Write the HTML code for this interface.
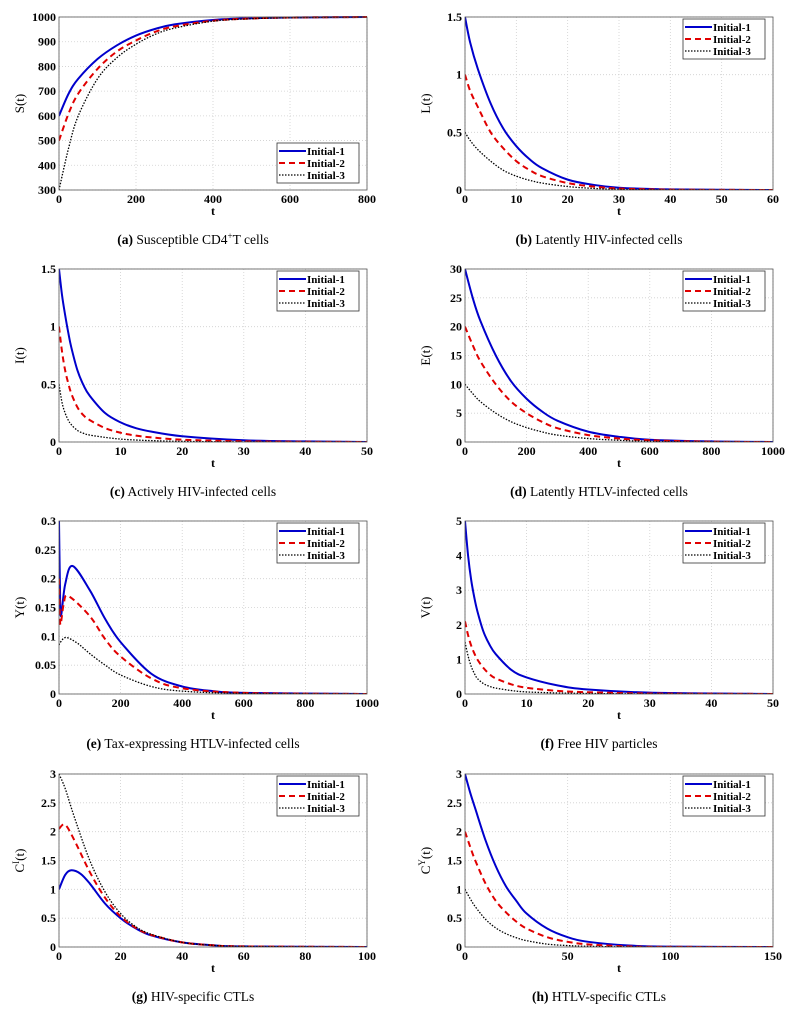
<!DOCTYPE html>
<html><head><meta charset="utf-8"><style>
body{margin:0;background:#fff;width:795px;height:1011px;overflow:hidden}
svg{display:block}
text{font-family:"Liberation Serif",serif}
</style></head><body>
<svg id="fig" width="795" height="1011" viewBox="0 0 795 1011"></svg>
<script>
// ---- data arrays ----
const tA=[0,25,50,100,150,200,250,300,400,500,600,800];
const a1=[600,690,750,830,885,925,952,970,988,995,998,1000];
const a2=[500,610,690,790,860,905,940,962,985,994,998,1000];
const a3=[300,470,600,750,835,890,930,955,983,993,997,1000];
const tB=[0,1,2.5,5,7.5,10,12.5,15,20,25,30,40,60];
const b1=[1.5,1.28,1.05,0.75,0.53,0.38,0.27,0.19,0.09,0.045,0.02,0.005,0];
const b2=[1.0,0.86,0.72,0.5,0.36,0.25,0.175,0.12,0.06,0.03,0.013,0.003,0];
const b3=[0.5,0.43,0.35,0.25,0.17,0.12,0.085,0.06,0.03,0.014,0.006,0.001,0];
const tC=[0,0.5,1,1.5,2,3,4,5,7.5,10,12.5,15,20,30,40,50];
const c1=[1.5,1.27,1.1,0.95,0.82,0.62,0.49,0.4,0.25,0.17,0.12,0.09,0.05,0.015,0.005,0];
const c2=[1.0,0.78,0.62,0.51,0.42,0.3,0.23,0.19,0.12,0.08,0.055,0.04,0.02,0.006,0.002,0];
const c3=[0.5,0.34,0.25,0.19,0.15,0.1,0.075,0.06,0.04,0.025,0.017,0.012,0.005,0.001,0,0];
const tD=[0,25,50,100,150,200,250,300,400,500,600,800,1000];
const d1=[30,25,21,15,10.5,7.5,5.3,3.7,1.8,0.9,0.4,0.1,0];
const d2=[20,16.8,14,10,7,5,3.5,2.4,1.2,0.6,0.3,0.05,0];
const d3=[10,8.4,7,5,3.5,2.5,1.75,1.2,0.6,0.3,0.12,0.02,0];
const tE1=[0,3,6,20,44,100,150,200,300,400,500,600,1000];
const e1=[0.3,0.19,0.135,0.19,0.222,0.18,0.13,0.09,0.035,0.013,0.005,0.002,0];
const tE2=[0,2,5,15,30,100,150,200,300,400,600,1000];
const e2=[0.2,0.15,0.12,0.155,0.17,0.135,0.095,0.065,0.027,0.01,0.002,0];
const tE3=[0,5,23,60,100,150,200,300,400,600,1000];
const e3=[0.085,0.09,0.098,0.088,0.07,0.05,0.033,0.013,0.005,0.001,0];
const tF=[0,0.5,1,1.5,2,3,4,5,7.5,10,15,20,30,50];
const f1=[5,4.0,3.3,2.8,2.4,1.8,1.42,1.15,0.7,0.48,0.25,0.13,0.04,0];
const f2=[2.1,1.7,1.4,1.18,1.0,0.75,0.57,0.45,0.28,0.18,0.09,0.05,0.015,0];
const f3=[1.5,1.1,0.8,0.6,0.45,0.3,0.22,0.17,0.1,0.06,0.03,0.015,0.003,0];
const tG1=[0,2,4,7,10,15,20,25,30,40,50,60,100];
const g1=[1,1.25,1.33,1.27,1.1,0.75,0.5,0.32,0.2,0.08,0.03,0.01,0];
const tG2=[0,2,5,10,15,20,25,30,40,50,60,100];
const g2=[2.05,2.12,1.85,1.3,0.85,0.53,0.33,0.21,0.08,0.03,0.01,0];
const tG3=[0,2,5,10,15,20,25,30,40,50,60,100];
const g3=[3,2.75,2.25,1.5,0.95,0.58,0.35,0.22,0.08,0.03,0.01,0];
const tH=[0,2.5,5,10,15,20,25,30,40,50,60,80,100,150];
const h1=[3,2.68,2.4,1.85,1.4,1.05,0.8,0.58,0.32,0.17,0.09,0.025,0.007,0];
const h2=[2,1.74,1.5,1.1,0.8,0.6,0.44,0.32,0.17,0.09,0.045,0.01,0.002,0];
const h3=[1,0.84,0.7,0.48,0.33,0.23,0.16,0.11,0.05,0.025,0.012,0.002,0,0];

const xtA=[0,200,400,600,800], ytA=[300,400,500,600,700,800,900,1000];
const xtB=[0,10,20,30,40,50,60], ytB=[0,0.5,1,1.5];
const xtC=[0,10,20,30,40,50], ytC=[0,0.5,1,1.5];
const xtD=[0,200,400,600,800,1000], ytD=[0,5,10,15,20,25,30];
const xtE=[0,200,400,600,800,1000], ytE=[0,0.05,0.1,0.15,0.2,0.25,0.3];
const xtF=[0,10,20,30,40,50], ytF=[0,1,2,3,4,5];
const xtG=[0,20,40,60,80,100], ytG=[0,0.5,1,1.5,2,2.5,3];
const xtH=[0,50,100,150], ytH=[0,0.5,1,1.5,2,2.5,3];

const NS="http://www.w3.org/2000/svg";
const fig=document.getElementById('fig');
function mk(tag,attrs,parent){const e=document.createElementNS(NS,tag);for(const k in attrs)e.setAttribute(k,attrs[k]);(parent||fig).appendChild(e);return e;}

const panels=[
 {id:'a',x:59,y:17,xt:xtA,yt:ytA,yl:'S',sup:'',leg:'br',cap:['(a)',' Susceptible CD4','+','T cells'],s:[[tA,a1],[tA,a2],[tA,a3]]},
 {id:'b',x:465,y:17,xt:xtB,yt:ytB,yl:'L',sup:'',leg:'tr',cap:['(b)',' Latently HIV-infected cells'],s:[[tB,b1],[tB,b2],[tB,b3]]},
 {id:'c',x:59,y:269,xt:xtC,yt:ytC,yl:'I',sup:'',leg:'tr',cap:['(c)',' Actively HIV-infected cells'],s:[[tC,c1],[tC,c2],[tC,c3]]},
 {id:'d',x:465,y:269,xt:xtD,yt:ytD,yl:'E',sup:'',leg:'tr',cap:['(d)',' Latently HTLV-infected cells'],s:[[tD,d1],[tD,d2],[tD,d3]]},
 {id:'e',x:59,y:521,xt:xtE,yt:ytE,yl:'Y',sup:'',leg:'tr',cap:['(e)',' Tax-expressing HTLV-infected cells'],s:[[tE1,e1],[tE2,e2],[tE3,e3]]},
 {id:'f',x:465,y:521,xt:xtF,yt:ytF,yl:'V',sup:'',leg:'tr',cap:['(f)',' Free HIV particles'],s:[[tF,f1],[tF,f2],[tF,f3]]},
 {id:'g',x:59,y:774,xt:xtG,yt:ytG,yl:'C',sup:'I',leg:'tr',cap:['(g)',' HIV-specific CTLs'],s:[[tG1,g1],[tG2,g2],[tG3,g3]]},
 {id:'h',x:465,y:774,xt:xtH,yt:ytH,yl:'C',sup:'Y',leg:'tr',cap:['(h)',' HTLV-specific CTLs'],s:[[tH,h1],[tH,h2],[tH,h3]]},
];
const styles=[{c:'#0000cc',w:2,d:''},{c:'#e00000',w:2,d:'6,4'},{c:'#000',w:1.3,d:'1.5,1.5'}];
const names=['Initial-1','Initial-2','Initial-3'];
const W=308,H=173;

function fmt(v){return String(+v.toFixed(4));}
function smooth(pts){
  let d='M'+pts[0][0].toFixed(2)+','+pts[0][1].toFixed(2);
  for(let i=0;i<pts.length-1;i++){
    const p0=pts[Math.max(0,i-1)],p1=pts[i],p2=pts[i+1],p3=pts[Math.min(pts.length-1,i+2)];
    const c1=[p1[0]+(p2[0]-p0[0])/6,p1[1]+(p2[1]-p0[1])/6];
    const c2=[p2[0]-(p3[0]-p1[0])/6,p2[1]-(p3[1]-p1[1])/6];
    d+=' C'+c1[0].toFixed(2)+','+c1[1].toFixed(2)+' '+c2[0].toFixed(2)+','+c2[1].toFixed(2)+' '+p2[0].toFixed(2)+','+p2[1].toFixed(2);
  }
  return d;
}

panels.forEach(p=>{
  const g=mk('g',{});
  
  
  const x0=p.xt[0],x1=p.xt[p.xt.length-1],y0=p.yt[0],y1=p.yt[p.yt.length-1];
  const sx=v=>p.x+(v-x0)/(x1-x0)*W, sy=v=>p.y+H-(v-y0)/(y1-y0)*H;
  p.xt.forEach(v=>{const l=mk('line',{x1:sx(v),x2:sx(v),y1:p.y,y2:p.y+H,stroke:'#cfcfcf','stroke-width':0.8,'stroke-dasharray':'1,2'},g);});
  p.yt.forEach(v=>{const l=mk('line',{x1:p.x,x2:p.x+W,y1:sy(v),y2:sy(v),stroke:'#cfcfcf','stroke-width':0.8,'stroke-dasharray':'1,2'},g);});
  const cp=mk('clipPath',{id:'clip'+p.id},g);mk('rect',{x:p.x,y:p.y-1,width:W,height:H+1},cp);
  p.s.forEach((s,i)=>{
    const pts=s[0].map((t,k)=>[sx(t),sy(s[1][k])]);
    const path=mk('path',{d:smooth(pts),fill:'none',stroke:styles[i].c,'stroke-width':styles[i].w,'stroke-dasharray':styles[i].d,'clip-path':'url(#clip'+p.id+')'},g);
    
    
  });
  const box=mk('rect',{x:p.x,y:p.y,width:W,height:H,fill:'none',stroke:'#555','stroke-width':0.8},g);
  
  p.xt.forEach(v=>{const t=mk('text',{x:sx(v),y:p.y+H+13,'text-anchor':'middle','font-size':12,'font-weight':'bold'},g);t.textContent=fmt(v);});
  p.yt.forEach(v=>{const t=mk('text',{x:p.x-3,y:sy(v)+4,'text-anchor':'end','font-size':12,'font-weight':'bold'},g);t.textContent=fmt(v);});
  const xl=mk('text',{x:p.x+W/2,y:p.y+H+25,'text-anchor':'middle','font-size':12,'font-weight':'bold'},g);xl.textContent='t';
  
  const yx=p.x-35,yy=p.y+H/2;
  const yl=mk('text',{x:yx,y:yy,'text-anchor':'middle','font-size':13,transform:'rotate(-90 '+yx+' '+yy+')'},g);
  
  if(p.sup){yl.innerHTML=p.yl+'<tspan dy="-5" font-size="9">'+p.sup+'</tspan><tspan dy="5">(t)</tspan>';}else yl.textContent=p.yl+'(t)';
  const lw=82,lh=40;
  const lx=p.x+W-lw-8, ly=p.leg==='br'?p.y+H-lh-7:p.y+2;
  const lg=mk('g',{},g);
  mk('rect',{x:lx,y:ly,width:lw,height:lh,fill:'#fff',stroke:'#333','stroke-width':0.8},lg);
  names.forEach((n,i)=>{
    const yy2=ly+8+i*12;
    const ln=mk('line',{x1:lx+2,x2:lx+29,y1:yy2,y2:yy2,stroke:styles[i].c,'stroke-width':styles[i].w,'stroke-dasharray':styles[i].d},lg);
    
    const t=mk('text',{x:lx+30,y:yy2+4,'font-size':11,'font-weight':'bold'},lg);t.textContent=n;
    
  });
  const cap=mk('text',{x:p.x+W/2-20,y:p.y+H+54,'text-anchor':'middle','font-size':13.5},g);
  
  let html='<tspan font-weight="bold">'+p.cap[0]+'</tspan>'+p.cap[1];
  if(p.cap.length>2)html+='<tspan dy="-5" font-size="9">'+p.cap[2]+'</tspan><tspan dy="5">'+p.cap[3]+'</tspan>';
  cap.innerHTML=html;
});
</script>
</body></html>
